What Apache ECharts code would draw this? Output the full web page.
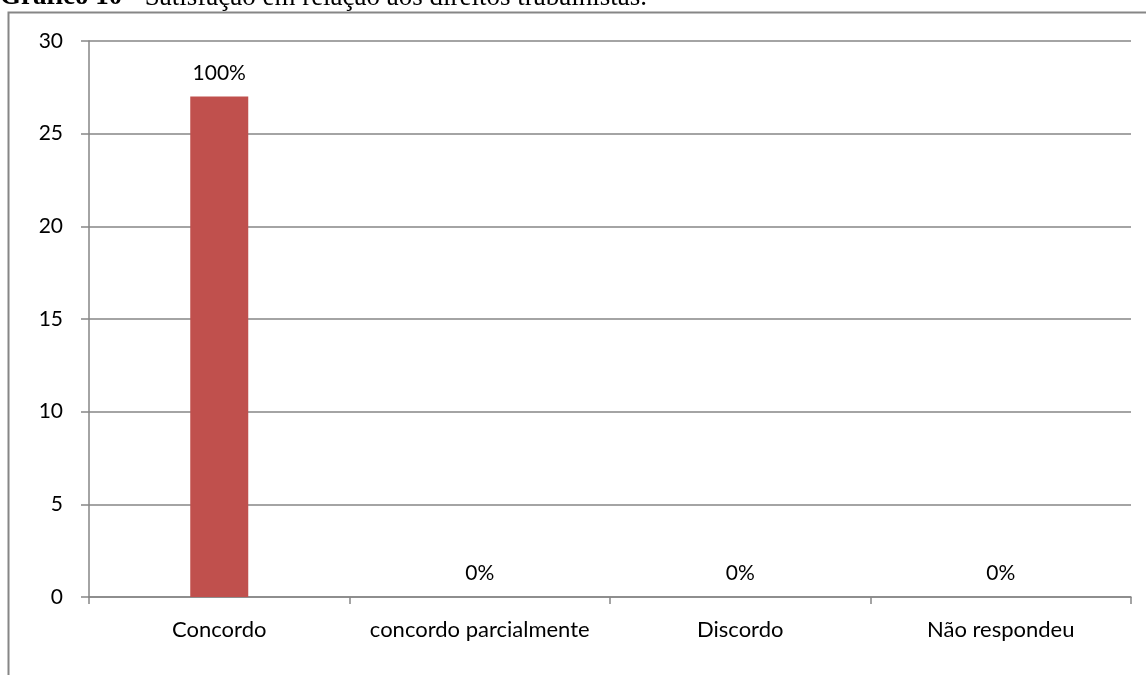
<!DOCTYPE html>
<html>
<head>
<meta charset="utf-8">
<script src="https://cdn.jsdelivr.net/npm/echarts@6/dist/echarts.min.js"></script>
<style>
  html, body { margin: 0; padding: 0; background: #fff; }
  #chart { width: 1146px; height: 675px; }
</style>
</head>
<body>
<div id="chart"></div>
<script>
// Survey answers: number of respondents per option
const categories = ['Concordo', 'concordo parcialmente', 'Discordo', 'Não respondeu'];
const counts = [27, 0, 0, 0];
const yTicks = { min: 0, max: 30, interval: 5 };
const titleBold = 'Gráfico 10';
const titleRest = ' - Satisfação em relação aos direitos trabalhistas.';

const total = counts.reduce((a, b) => a + b, 0);
const axisGrey = '#868686';
const textFont = 'Lato, "Open Sans", sans-serif';

const chart = echarts.init(document.getElementById('chart'), null, { renderer: 'canvas' });
chart.setOption({
  animation: false,
  backgroundColor: '#ffffff',
  grid: { left: 89, right: 15, top: 41, bottom: 78, containLabel: false },
  graphic: [
    {
      type: 'text', left: 0, top: -16, z: 10,
      style: {
        text: '{b|' + titleBold + '}{r|' + titleRest + '}',
        rich: {
          b: { fontFamily: '"Liberation Serif", serif', fontWeight: 'bold', fontSize: 27, fill: '#000' },
          r: { fontFamily: '"Liberation Serif", serif', fontSize: 27, fill: '#000' }
        }
      }
    },
    {
      type: 'polyline', z: 5,
      shape: { points: [[8.5, 675], [8.5, 12.5], [1146, 12.5]] },
      style: { stroke: axisGrey, lineWidth: 2, fill: null }
    }
  ],
  xAxis: {
    type: 'category',
    data: categories,
    boundaryGap: true,
    axisLine: { show: true, lineStyle: { color: axisGrey, width: 1.5 } },
    axisTick: { show: true, interval: 0, length: 7, alignWithLabel: false, lineStyle: { color: axisGrey, width: 1.5 } },
    axisLabel: { color: '#000', fontSize: 22, fontFamily: textFont, margin: 22, interval: 0, hideOverlap: false }
  },
  yAxis: {
    type: 'value',
    min: yTicks.min, max: yTicks.max, interval: yTicks.interval,
    axisLine: { show: true, lineStyle: { color: axisGrey, width: 1.5 } },
    axisTick: { show: true, length: 8, lineStyle: { color: axisGrey, width: 1.5 } },
    axisLabel: { color: '#000', fontSize: 21, fontFamily: textFont, margin: 26 },
    splitLine: { show: true, lineStyle: { color: axisGrey, width: 1.5 } }
  },
  series: [{
    type: 'bar',
    data: counts,
    barWidth: 58,
    itemStyle: { color: '#C0504D' },
    label: {
      show: true,
      position: 'top',
      distance: 13,
      color: '#000',
      fontSize: 21,
      fontFamily: textFont,
      formatter: p => Math.round(p.value / total * 100) + '%'
    }
  }]
});
</script>
</body>
</html>
